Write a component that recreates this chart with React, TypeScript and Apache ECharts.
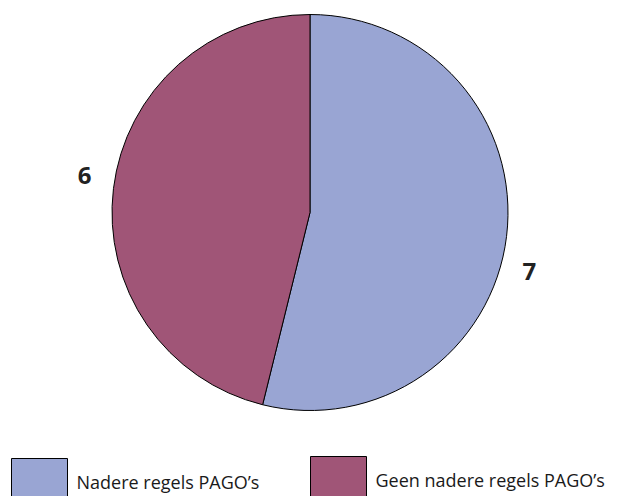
import React, { useEffect, useRef } from "react";
import * as echarts from "echarts";

const categories = ["Nadere regels PAGO’s", "Geen nadere regels PAGO’s"];
const values = [7, 6];
const colors = ["#99A5D3", "#A05577"];

export default function App() {
  const ref = useRef<HTMLDivElement>(null);
  useEffect(() => {
    document.body.style.margin = "0";
    const chart = echarts.init(ref.current!, undefined, { renderer: "svg" });
    const font = "'Open Sans', 'Noto Sans', sans-serif";
    chart.setOption({
      animation: false,
      backgroundColor: "#ffffff",
      legend: categories.map((name, i) => ({
        data: [name],
        left: i === 0 ? 11 : 310,
        top: i === 0 ? 458 : 456,
        icon: "rect",
        itemWidth: 56,
        itemHeight: 46,
        itemStyle: { borderColor: "#000", borderWidth: 1 },
        textStyle: {
          fontFamily: font,
          fontSize: 18,
          color: "#1a1a1a",
          padding: [0, 0, 0, 4],
        },
        selectedMode: false,
        padding: 0,
      })),
      series: [
        {
          type: "pie",
          center: [310, 212.5],
          radius: [0, 198],
          startAngle: 90,
          clockwise: true,
          data: categories.map((name, i) => ({
            name,
            value: values[i],
            itemStyle: { color: colors[i] },
          })),
          itemStyle: { borderColor: "#000", borderWidth: 1 },
          label: {
            show: true,
            position: "outside",
            formatter: "{c}",
            fontFamily: font,
            fontSize: 24,
            fontWeight: "bold",
            color: "#222",
          },
          labelLine: { show: false, length: 12, length2: 0 },
          labelLayout: (p: any) =>
            p.dataIndex === 0 ? { dy: 33, dx: -1 } : { dy: -13, dx: -5 },
          emphasis: { disabled: true },
        },
      ],
    });
    return () => chart.dispose();
  }, []);
  return <div ref={ref} style={{ width: 621, height: 496 }} />;
}
